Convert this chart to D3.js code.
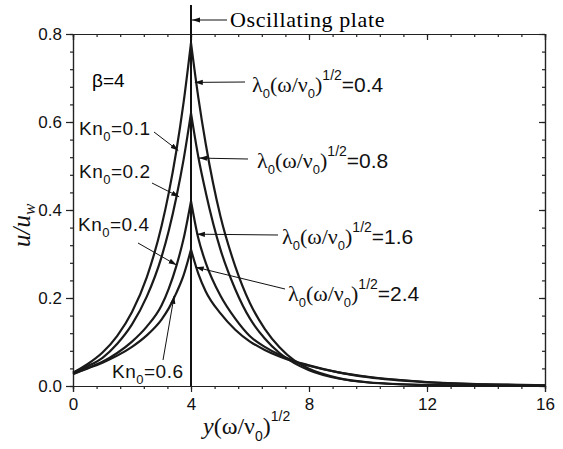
<!DOCTYPE html>
<html>
<head>
<meta charset="utf-8">
<title>u/uw vs y</title>
<script src="https://cdn.jsdelivr.net/npm/d3@7"></script>
<style>
  html, body { margin: 0; padding: 0; background: #fff; }
  svg { display: block; }
  .axis path, .axis line { stroke: #222; stroke-width: 1.2; }
  .axis text { font-family: "Liberation Sans", Arial, sans-serif; font-size: 17px; fill: #111; }
</style>
</head>
<body>
<div id="chart"></div>
<script>
// y(w/v0)^1/2 sample positions, left of plate then right of plate
var xLeft  = [0, 0.5, 1, 1.5, 2, 2.5, 3, 3.25, 3.5, 3.75, 4];
var xRight = [4, 4.25, 4.5, 5, 5.5, 6, 6.5, 7, 7.5, 8, 9, 10, 12, 14, 16];

var series = ["Kn0=0.1", "Kn0=0.2", "Kn0=0.4", "Kn0=0.6"];

// u/uw, left side (wall at 0 .. plate at 4)
var leftKn01 = [0.030, 0.050, 0.076, 0.114, 0.168, 0.247, 0.363, 0.440, 0.533, 0.645, 0.780];
var leftKn02 = [0.030, 0.045, 0.064, 0.096, 0.140, 0.203, 0.293, 0.354, 0.428, 0.515, 0.620];
var leftKn04 = [0.028, 0.041, 0.055, 0.075, 0.101, 0.135, 0.183, 0.222, 0.272, 0.335, 0.420];
var leftKn06 = [0.027, 0.040, 0.053, 0.069, 0.089, 0.115, 0.151, 0.177, 0.211, 0.252, 0.310];

// u/uw, right side (plate at 4 .. 16)
var rightKn01 = [0.780, 0.655, 0.550, 0.385, 0.272, 0.188, 0.130, 0.088, 0.058, 0.039, 0.018, 0.0085, 0.0025, 0.0008, 0.0002];
var rightKn02 = [0.620, 0.520, 0.440, 0.310, 0.220, 0.153, 0.108, 0.075, 0.052, 0.036, 0.017, 0.008, 0.002, 0.0006, 0.0002];
var rightKn04 = [0.420, 0.335, 0.280, 0.205, 0.153, 0.113, 0.089, 0.071, 0.057, 0.047, 0.031, 0.020, 0.0085, 0.0035, 0.0013];
var rightKn06 = [0.310, 0.255, 0.215, 0.165, 0.128, 0.101, 0.082, 0.067, 0.055, 0.046, 0.031, 0.021, 0.009, 0.004, 0.0015];

var leftVals  = [leftKn01, leftKn02, leftKn04, leftKn06];
var rightVals = [rightKn01, rightKn02, rightKn04, rightKn06];

var xMajor = [0, 4, 8, 12, 16];
var yMajor = [0, 0.2, 0.4, 0.6, 0.8];

var W = 563, H = 449;
var sans = '"Liberation Sans", Arial, sans-serif';
var serif = '"Liberation Serif", "Times New Roman", serif';

var svg = d3.select('#chart').append('svg').attr('width', W).attr('height', H);

var x = d3.scaleLinear().domain([0, 16]).range([73, 545]);
var y = d3.scaleLinear().domain([0, 0.8]).range([386, 34]);

var defs = svg.append('defs');
defs.append('marker')
  .attr('id', 'arr')
  .attr('viewBox', '0 -3 8 6')
  .attr('refX', 8).attr('refY', 0)
  .attr('markerWidth', 8).attr('markerHeight', 6)
  .attr('markerUnits', 'userSpaceOnUse')
  .attr('orient', 'auto')
  .append('path').attr('d', 'M0,-2.6L8,0L0,2.6Z').attr('fill', '#111');

// axes, major + minor
var xMinor = d3.range(0, 16.001, 0.8);
var yMinor = d3.range(0, 0.8001, 0.04);

function addAxis(axis, tr) {
  return svg.append('g').attr('class', 'axis').attr('transform', tr).call(axis);
}
addAxis(d3.axisBottom(x).tickValues(xMinor).tickSize(3).tickFormat(''), 'translate(0,386)');
addAxis(d3.axisBottom(x).tickValues(xMajor).tickSize(6).tickPadding(6).tickFormat(d3.format('d')), 'translate(0,386)');
addAxis(d3.axisTop(x).tickValues(xMinor).tickSize(-3).tickFormat(''), 'translate(0,34)');
addAxis(d3.axisTop(x).tickValues(xMajor).tickSize(-6).tickFormat(''), 'translate(0,34)');
addAxis(d3.axisLeft(y).tickValues(yMinor).tickSize(3).tickFormat(''), 'translate(73,0)');
addAxis(d3.axisLeft(y).tickValues(yMajor).tickSize(7).tickPadding(4).tickFormat(d3.format('.1f')), 'translate(73,0)');
addAxis(d3.axisRight(y).tickValues(yMinor).tickSize(-3).tickFormat(''), 'translate(545,0)');
addAxis(d3.axisRight(y).tickValues(yMajor).tickSize(-6).tickFormat(''), 'translate(545,0)');
svg.selectAll('.axis path.domain').attr('stroke-width', 1.3);

// plate line
svg.append('line')
  .attr('x1', x(4)).attr('x2', x(4))
  .attr('y1', 5).attr('y2', y(0))
  .attr('stroke', '#111').attr('stroke-width', 2);

// curves
var line = d3.line()
  .x(function(d) { return x(d[0]); })
  .y(function(d) { return y(d[1]); })
  .curve(d3.curveMonotoneX);

series.forEach(function(name, i) {
  var l = xLeft.map(function(v, j) { return [v, leftVals[i][j]]; });
  var r = xRight.map(function(v, j) { return [v, rightVals[i][j]]; });
  [l, r].forEach(function(seg) {
    svg.append('path')
      .datum(seg)
      .attr('d', line)
      .attr('fill', 'none')
      .attr('stroke', '#1a1a1a')
      .attr('stroke-width', 2.2);
  });
});

// rich text helper: parts = [text, font, size, offset, italic]
function rich(px, py, parts, attrs) {
  var t = svg.append('text').attr('x', px).attr('y', py).attr('fill', '#111');
  if (attrs) Object.keys(attrs).forEach(function(k) { t.attr(k, attrs[k]); });
  var cur = 0;
  parts.forEach(function(p) {
    var off = p[3] || 0;
    var ts = t.append('tspan').text(p[0])
      .attr('font-family', p[1]).attr('font-size', p[2])
      .attr('dy', off - cur);
    if (p[4]) ts.attr('font-style', 'italic');
    cur = off;
  });
  return t;
}

function arrow(x1, y1, x2, y2) {
  svg.append('line')
    .attr('x1', x1).attr('y1', y1).attr('x2', x2).attr('y2', y2)
    .attr('stroke', '#111').attr('stroke-width', 1)
    .attr('marker-end', 'url(#arr)');
}

// axis titles
rich(203, 434, [
  ['y', serif, 24, 0, true], ['(ω/ν', serif, 24], ['0', sans, 14, 7], [')', serif, 24, 0], ['1/2', sans, 14, -13]
]);
rich(0, 0, [['u/u', serif, 25, 0, true], ['w', serif, 17, 5, true]],
  {transform: 'translate(30,247) rotate(-90)'});

// beta
svg.append('text').attr('x', 92).attr('y', 87)
  .attr('font-family', sans).attr('font-size', 19).text('β=4');

// oscillating plate
svg.append('text').attr('x', 230).attr('y', 27)
  .attr('font-family', serif).attr('font-size', 22).attr('letter-spacing', 0.6)
  .text('Oscillating plate');
arrow(227, 20, x(4) + 1, 20);

// Kn labels
function knLabel(px, py, val) {
  rich(px, py, [['Kn', sans, 19], ['0', sans, 13, 6], ['=' + val, sans, 19, 0]],
    {'letter-spacing': 0.5});
}
knLabel(79, 135, '0.1');
knLabel(79, 178, '0.2');
knLabel(78, 231, '0.4');
knLabel(112, 378, '0.6');
arrow(154, 132, x(3.57), y(0.535));
arrow(152, 183, x(3.6), y(0.43));
arrow(138, 243, x(3.51), y(0.275));
arrow(163, 360, x(3.43), y(0.205));

// lambda labels
function lamLabel(px, py, val) {
  rich(px, py, [
    ['λ', serif, 22], ['0', sans, 13, 6], ['(ω/ν', serif, 22, 0], ['0', sans, 13, 6],
    [')', serif, 22, 0], ['1/2', sans, 14, -12], ['=' + val, sans, 21, 0]
  ]);
}
lamLabel(252, 92, '0.4');
lamLabel(257, 168, '0.8');
lamLabel(282, 244, '1.6');
lamLabel(288, 301, '2.4');
arrow(245, 82, x(4.13), y(0.69));
arrow(248, 159, x(4.27), y(0.518));
arrow(278, 235, x(4.2), y(0.345));
arrow(285, 289, x(4.16), y(0.27));
</script>
</body>
</html>
